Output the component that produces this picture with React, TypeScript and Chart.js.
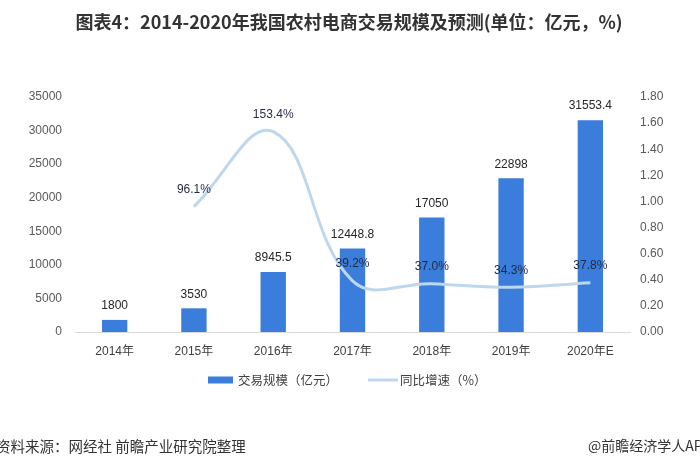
import React, { useEffect, useRef } from 'react';
import { Chart, registerables } from 'chart.js';

Chart.register(...registerables);

const titleText = '图表4：2014-2020年我国农村电商交易规模及预测(单位：亿元，%)';
const sourceText = '资料来源：网经社 前瞻产业研究院整理';
const creditText = '@前瞻经济学人APP';
const categories = ['2014年', '2015年', '2016年', '2017年', '2018年', '2019年', '2020年E'];
const volumeLabel = '交易规模（亿元）';
const growthLabel = '同比增速（%）';
const volume = [1800, 3530, 8945.5, 12448.8, 17050, 22898, 31553.4];
const growth: (number | null)[] = [null, 0.961, 1.534, 0.392, 0.37, 0.343, 0.378];
const leftTickMax = 35000;
const leftTickStep = 5000;
const rightTickMax = 1.8;
const rightTickStep = 0.2;

const BAR_COLOR = '#3b7ddb';
const LINE_COLOR = '#bdd7ee';
const FONT = '"Liberation Sans", "Noto Sans CJK SC", sans-serif';
const CJK = '"Noto Sans CJK SC", "Liberation Sans", sans-serif';

const decorPlugin = {
  id: 'decor',
  beforeDraw(chart: any) {
    const ctx = chart.ctx;
    ctx.save();
    ctx.fillStyle = '#ffffff';
    ctx.fillRect(0, 0, chart.width, chart.height);
    ctx.restore();
  },
  afterDraw(chart: any) {
    const ctx = chart.ctx;
    ctx.save();
    // title
    ctx.font = `bold 18px ${CJK}`;
    ctx.fillStyle = '#333333';
    ctx.textAlign = 'center';
    ctx.textBaseline = 'middle';
    ctx.fillText(titleText, 349, 22);

    // legend
    const ds = chart.data.datasets;
    const barDs = ds.find((d: any) => d.type === 'bar');
    const lineDs = ds.find((d: any) => d.type === 'line');
    const ly = 380;
    ctx.font = `12.5px ${CJK}`;
    ctx.textAlign = 'left';
    ctx.fillStyle = barDs.backgroundColor;
    ctx.fillRect(208, ly - 3.5, 25, 7);
    ctx.fillStyle = '#404040';
    ctx.fillText(barDs.label, 238, ly);
    ctx.strokeStyle = lineDs.borderColor;
    ctx.lineWidth = 3;
    ctx.beginPath();
    ctx.moveTo(368, ly);
    ctx.lineTo(398, ly);
    ctx.stroke();
    ctx.fillStyle = '#404040';
    ctx.fillText(lineDs.label, 400, ly);

    // footer
    ctx.font = `14.5px ${CJK}`;
    ctx.fillStyle = '#333333';
    ctx.fillText(sourceText, -4, 446);
    ctx.font = `14px ${CJK}`;
    ctx.fillText(creditText, 588, 446);
    ctx.restore();
  },
};

const labelsPlugin = {
  id: 'valueLabels',
  afterDatasetsDraw(chart: any) {
    const ctx = chart.ctx;
    ctx.save();
    ctx.font = `12px ${FONT}`;
    ctx.textAlign = 'center';
    ctx.textBaseline = 'middle';
    chart.data.datasets.forEach((d: any, di: number) => {
      const meta = chart.getDatasetMeta(di);
      meta.data.forEach((el: any, i: number) => {
        const v = d.data[i];
        if (v === null || v === undefined) return;
        if (d.type === 'bar') {
          ctx.fillStyle = '#262626';
          ctx.fillText(String(v), el.x, el.y - 14);
        } else {
          ctx.fillStyle = '#1f2a44';
          ctx.fillText((v * 100).toFixed(1) + '%', el.x, el.y - 17);
        }
      });
    });
    ctx.restore();
  },
};

export default function App() {
  const ref = useRef<HTMLCanvasElement | null>(null);
  useEffect(() => {
    if (!ref.current) return;
    const chart = new Chart(ref.current, {
      type: 'bar',
      data: {
        labels: categories,
        datasets: [
          {
            type: 'line',
            label: growthLabel,
            data: growth,
            yAxisID: 'y1',
            borderColor: LINE_COLOR,
            backgroundColor: LINE_COLOR,
            borderWidth: 3,
            pointRadius: 0,
            tension: 0.4,
            order: 0,
          } as any,
          {
            type: 'bar',
            label: volumeLabel,
            data: volume,
            yAxisID: 'y',
            backgroundColor: BAR_COLOR,
            categoryPercentage: 1,
            barPercentage: 0.32,
            order: 1,
          } as any,
        ],
      },
      options: {
        responsive: false,
        animation: false,
        layout: { padding: { top: 97, bottom: 108, left: 0, right: 0 } },
        plugins: {
          legend: { display: false },
          tooltip: { enabled: false },
          title: { display: false },
        },
        scales: {
          x: {
            grid: { display: false, drawTicks: false },
            border: { display: true, color: '#d9d9d9', width: 1 },
            ticks: { color: '#404040', font: { size: 12, family: FONT }, padding: 12 },
            afterFit(s: any) { s.height = 30; },
          },
          y: {
            position: 'left',
            min: 0,
            max: leftTickMax,
            grid: { display: false, drawTicks: false },
            border: { display: false },
            ticks: {
              stepSize: leftTickStep,
              color: '#595959',
              font: { size: 12, family: FONT },
              padding: 13,
              callback: (v: any) => String(v),
            },
            afterFit(s: any) { s.width = 75; },
          },
          y1: {
            position: 'right',
            min: 0,
            max: rightTickMax,
            grid: { display: false, drawTicks: false },
            border: { display: false },
            ticks: {
              stepSize: rightTickStep,
              color: '#595959',
              font: { size: 12, family: FONT },
              padding: 10,
              callback: (v: any) => Number(v).toFixed(2),
            },
            afterFit(s: any) { s.width = 70; },
          },
        },
      },
      plugins: [decorPlugin, labelsPlugin],
    });
    return () => chart.destroy();
  }, []);
  return (
    <div style={{ position: 'absolute', left: 0, top: 0, width: 700, height: 470 }}>
      <canvas ref={ref} width={700} height={470} style={{ display: 'block' }} />
    </div>
  );
}
